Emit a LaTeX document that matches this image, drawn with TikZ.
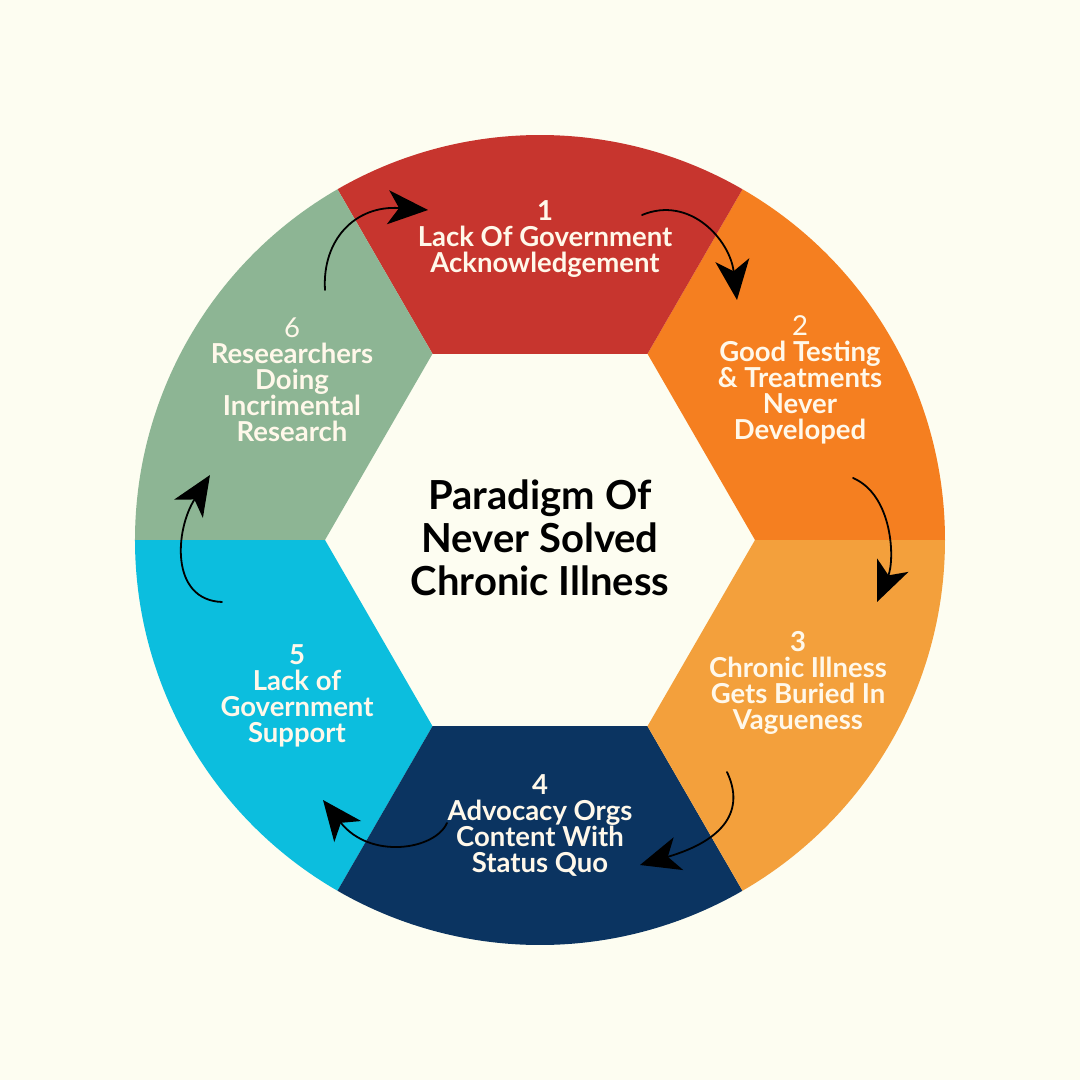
\documentclass[tikz,border=0pt]{standalone}
\usepackage{fontspec}
\setmainfont{Lato}
\usetikzlibrary{arrows.meta}
\definecolor{cyBack}{HTML}{FDFDF1}
\definecolor{cyRed}{HTML}{C7352E}
\definecolor{cyOrange}{HTML}{F57F20}
\definecolor{cyLight}{HTML}{F3A03C}
\definecolor{cyNavy}{HTML}{0B3461}
\definecolor{cyCyan}{HTML}{0CBEDE}
\definecolor{cyGreen}{HTML}{8DB594}
\definecolor{cyText}{HTML}{FFF8EA}
\tikzset{
  cy diagram/.style={x=1pt, y=1pt, line cap=round, line join=round},
  cy label/.style={text=cyText, align=center, inner sep=0pt,
    font=\fontsize{27.5}{26}\selectfont\bfseries},
  cy title/.style={text=black, align=center, inner sep=0pt,
    font=\fontsize{40}{43}\selectfont\bfseries},
  cy arrow/.style={-{Stealth[length=40pt, width=34pt, inset=11pt]},
    draw=black, line width=1.8pt}
}
\begin{document}
\begin{tikzpicture}[cy diagram]
\fill[cyBack] (-540,-540) rectangle (540,540);
\useasboundingbox (-540,-540) rectangle (540,540);
% ring segments
\foreach \a/\col in {0/cyOrange,60/cyRed,120/cyGreen,180/cyCyan,240/cyNavy,300/cyLight}{
  \fill[\col] (\a:215) -- (\a:405) arc[start angle=\a, end angle=\a+60, radius=405]
    -- (\a+60:215) -- cycle;
}
% labels
\node[cy title] (title) at (0,2) {Paradigm Of\\Never Solved\\Chronic Illness};
\node[cy label] (step1) at (5,301) {1\\Lack Of Government\\Acknowledgement};
\node[cy label] (step2) at (260,160) {{\mdseries 2}\\Good Testing\\\& Treatments\\Never\\Developed};
\node[cy label] (step3) at (258,-143) {3\\Chronic Illness\\Gets Buried In\\Vagueness};
\node[cy label] (step4) at (0,-285) {4\\Advocacy Orgs\\Content With\\Status Quo};
\node[cy label] (step5) at (-243,-156) {5\\Lack of\\Government\\Support};
\node[cy label] (step6) at (-248,160) {{\mdseries 6}\\Reseearchers\\Doing\\Incrimental\\Research};
% arrow ends
\coordinate (t1) at (-215,250); \coordinate (h1) at (-112,330);
\coordinate (t2) at (102,325);  \coordinate (h2) at (197,240);
\coordinate (t3) at (313,62);   \coordinate (h3) at (337,-62);
\coordinate (t4) at (187,-232); \coordinate (h4) at (100,-325);
\coordinate (t5) at (-93,-283); \coordinate (h5) at (-217,-260);
\coordinate (t6) at (-318,-62); \coordinate (h6) at (-330,65);
\draw[cy arrow] (t1) .. controls (-218,300) and (-185,335) .. (h1);
\draw[cy arrow] (t2) .. controls (150,345) and (190,300) .. (h2);
\draw[cy arrow] (t3) .. controls (353,45) and (355,-20) .. (h3);
\draw[cy arrow] (t4) .. controls (205,-270) and (185,-300) .. (h4);
\draw[cy arrow] (t5) .. controls (-105,-310) and (-170,-320) .. (h5);
\draw[cy arrow] (t6) .. controls (-370,-60) and (-365,10) .. (h6);
\end{tikzpicture}
\end{document}
